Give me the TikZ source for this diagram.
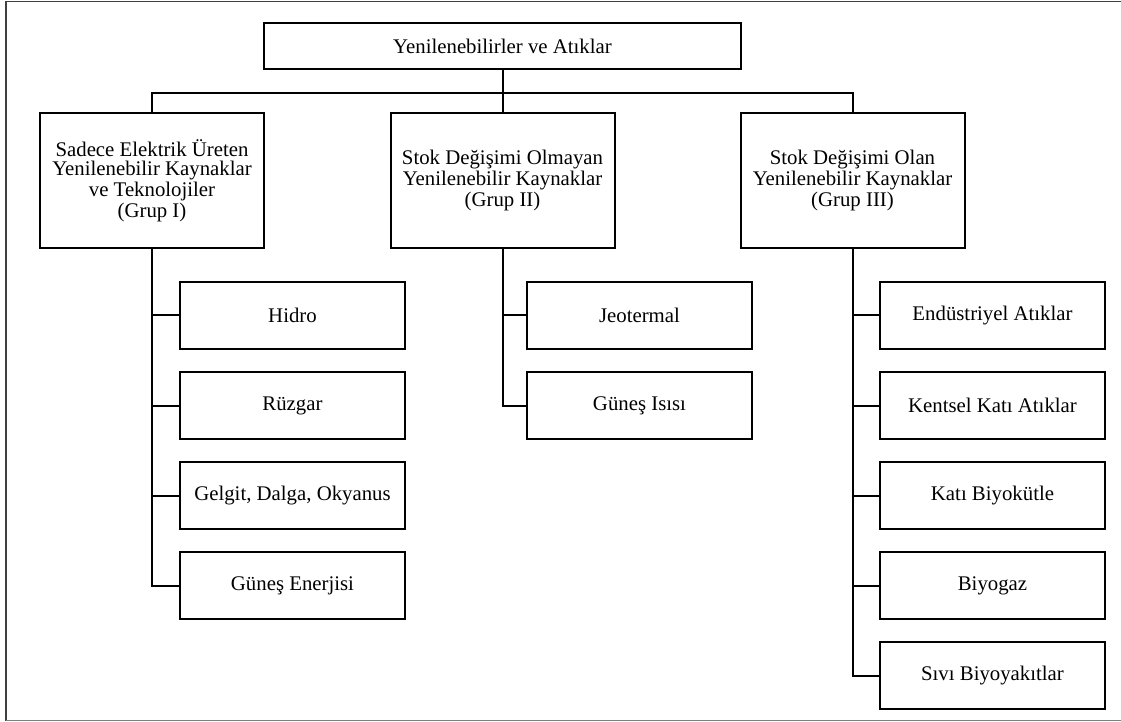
\documentclass[tikz,border=0pt]{standalone}
\usepackage{fontspec}
\setmainfont{Liberation Serif}
\usepackage{tikz}
\usetikzlibrary{calc}
\tikzstyle{rootbox}=[rectangle,draw,line width=1pt,minimum width=238.5pt,minimum height=23pt,inner sep=0pt,font=\fontsize{10.4}{9.4}\selectfont]
\tikzstyle{groupbox}=[rectangle,draw,line width=1pt,minimum width=112pt,minimum height=67.5pt,inner sep=0pt,align=center,font=\fontsize{10.4}{9.4}\selectfont]
\tikzstyle{leafbox}=[rectangle,draw,line width=1pt,minimum width=112.5pt,minimum height=33.5pt,inner sep=0pt,font=\fontsize{10.4}{9.4}\selectfont]
\tikzstyle{link} = [draw,line width=1pt]

\begin{document}
\begin{tikzpicture}[x=0.5pt,y=-0.5pt]

   \useasboundingbox (0,0) rectangle (1121,722);
   \draw[black!75, line width=0.6pt] (1121,1.5) -- (6,1.5) -- (6,720.5);
   \draw[black!50, line width=0.6pt] (6,720.5) -- (1121,720.5);

   \node[rootbox] (root) at (502.5,46) {Yenilenebilirler ve At\i klar};

   \foreach \pos/ \name / \label in {(152,180.5)/grup1/{Sadece Elektrik Üreten\\Yenilenebilir Kaynaklar\\ve Teknolojiler\\(Grup I)},
                                    (502.5,180.5)/grup2/{Stok Değişimi Olmayan\\Yenilenebilir Kaynaklar\\(Grup II)},
                                    (852.5,180.5)/grup3/{Stok Değişimi Olan\\Yenilenebilir Kaynaklar\\(Grup III)}}
        \node[groupbox] (\name) at \pos {\label};

    \foreach \pos/ \name / \label in {(292.5,315.5)/hidro/Hidro, (292.5,405.5)/ruzgar/Rüzgar,
                                     (292.5,495.5)/gelgit/{Gelgit, Dalga, Okyanus}, (292.5,585.5)/gunes/Güneş Enerjisi,
                                     (639.5,315.5)/jeo/Jeotermal, (639.5,405.5)/isi/Güneş Isısı,
                                     (992.5,315.5)/endustri/Endüstriyel Atıklar, (992.5,405.5)/kentsel/Kentsel Katı Atıklar,
                                     (992.5,495.5)/biyokutle/Katı Biyokütle, (992.5,585.5)/biyogaz/Biyogaz,
                                     (992.5,675.5)/sivi/Sıvı Biyoyakıtlar}
        \node[leafbox] (\name) at \pos {\label};

    % Connect the groups to the root
    \coordinate (bus) at (502.5,93);
    \draw[link] (grup1.north) |- (bus) -| (grup3.north);
    \draw[link] (root.south) -- (grup2.north);

    % Connect the sources to their groups
    \foreach \source/ \dest in {grup1/hidro, grup1/ruzgar, grup1/gelgit, grup1/gunes,
                                grup2/jeo, grup2/isi,
                                grup3/endustri, grup3/kentsel, grup3/biyokutle, grup3/biyogaz, grup3/sivi}
        \draw[link] (\source.south) |- (\dest.west);

\end{tikzpicture}
\end{document}
